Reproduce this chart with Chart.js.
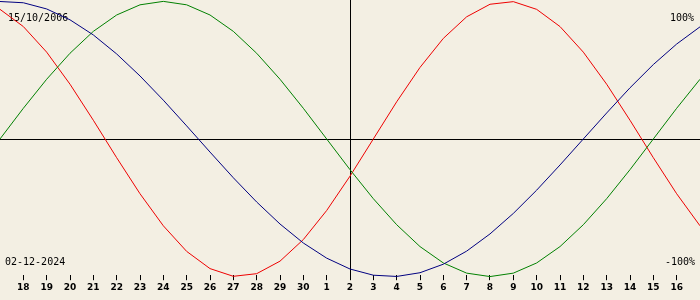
<!DOCTYPE html>
<html>
<head>
<meta charset="utf-8">
<script src="https://cdn.jsdelivr.net/npm/chart.js@4"></script>
<style>
  html, body { margin: 0; padding: 0; background: #f3efe3; }
  #wrap { width: 700px; height: 300px; position: relative; }
</style>
</head>
<body>
<div id="wrap"><canvas id="myChart"></canvas></div>
<script>
// one point per day, 17 Nov .. 17 Dec (first and last are only there to reach the edges)
const days = ["17", "18", "19", "20", "21", "22", "23", "24", "25", "26", "27", "28", "29", "30", "1", "2", "3", "4", "5", "6", "7", "8", "9", "10", "11", "12", "13", "14", "15", "16", "17"]
const physical = [94.2, 81.7, 63.1, 39.8, 13.6, -13.6, -39.8, -63.1, -81.7, -94.2, -99.8, -97.9, -88.8, -73.1, -52.0, -27.0, 0, 27.0, 52.0, 73.1, 88.8, 97.9, 99.8, 94.2, 81.7, 63.1, 39.8, 13.6, -13.6, -39.8, -63.1]
const emotional = [0, 22.3, 43.4, 62.3, 78.2, 90.1, 97.5, 100, 97.5, 90.1, 78.2, 62.3, 43.4, 22.3, 0, -22.3, -43.4, -62.3, -78.2, -90.1, -97.5, -100, -97.5, -90.1, -78.2, -62.3, -43.4, -22.3, 0, 22.3, 43.4]
const intellectual = [99.9, 99.0, 94.5, 86.6, 75.6, 61.8, 45.8, 28.2, 9.5, -9.5, -28.2, -45.8, -61.8, -75.6, -86.6, -94.5, -99.0, -99.9, -97.2, -91.0, -81.5, -69.0, -54.1, -37.2, -18.9, 0, 18.9, 37.2, 54.1, 69.0, 81.5]
const today = "2"
const birthText = "15/10/2006"
const todayText = "02-12-2024"

// cross lines (today + zero) and the corner texts
const decor = {
    id: 'decor',
    beforeDatasetsDraw(chart) {
        const c = chart.ctx, x = chart.scales.x, y = chart.scales.y;
        const a = chart.chartArea;
        const xt = Math.round(x.getPixelForValue(days.indexOf(today, 1))) + 0.5;
        const y0 = Math.round(y.getPixelForValue(0)) + 0.5;
        c.save();
        c.strokeStyle = '#000';
        c.lineWidth = 1;
        c.beginPath();
        c.moveTo(a.left, y0); c.lineTo(a.right, y0);
        c.moveTo(xt, 0); c.lineTo(xt, a.bottom + 4);
        c.stroke();
        c.fillStyle = '#000';
        c.font = '10px "DejaVu Sans Mono"';
        c.textAlign = 'left';
        c.fillText(birthText, 8, 21);
        c.fillText(todayText, 5, 265);
        c.textAlign = 'right';
        c.fillText('100%', 694, 21);
        c.fillText('-100%', 695, 265);
        c.restore();
    }
};

const line = (data, color) => ({
    data: data,
    borderColor: color,
    borderWidth: 1,
    pointRadius: 0,
    tension: 0,
    clip: false
});

new Chart(document.getElementById('myChart'), {
    type: 'line',
    data: {
        labels: days,
        datasets: [
            line(intellectual, '#000080'),
            line(emotional, '#008000'),
            line(physical, '#ee0000')
        ]
    },
    options: {
        animation: false,
        responsive: true,
        maintainAspectRatio: false,
        layout: { padding: { left: 0, right: 0, top: 0, bottom: 5 } },
        plugins: { legend: { display: false }, tooltip: { enabled: false } },
        scales: {
            x: {
                offset: false,
                border: { display: false },
                grid: { drawOnChartArea: false, drawTicks: true, tickLength: 5, color: '#000' },
                afterBuildTicks: s => { s.ticks = s.ticks.slice(1, -1); },
                ticks: {
                    autoSkip: false, maxRotation: 0, padding: 2, color: '#000',
                    font: { family: 'DejaVu Sans', size: 9, weight: 'bold' }
                }
            },
            y: {
                display: false,
                min: -99.0,
                max: 101.0
            }
        }
    },
    plugins: [decor]
});
</script>
</body>
</html>
